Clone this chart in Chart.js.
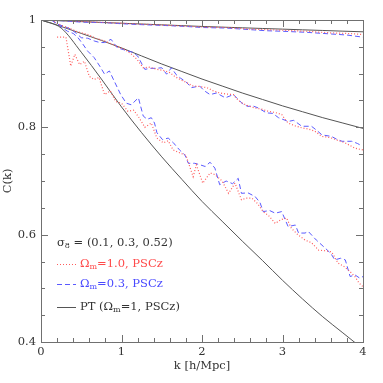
<!DOCTYPE html>
<html>
<head>
<meta charset="utf-8">
<script src="https://cdn.jsdelivr.net/npm/chart.js@4"></script>
<style>
  html, body { margin: 0; padding: 0; background: #fff; }
  #wrap { width: 383px; height: 383px; }
</style>
</head>
<body>
<div id="wrap"><canvas id="chart"></canvas></div>
<script>
// ticks of the axes
const kTicks = [0, 1, 2, 3, 4];
const cTicks = [0.4, 0.6, 0.8, 1];

// perturbation theory (solid), one curve per sigma8
const ptK = [0, 0.25, 0.5, 0.75, 1, 1.25, 1.5, 1.75, 2, 2.25, 2.5, 2.75, 3, 3.25, 3.5, 3.75, 4];
const ptS01 = [1, 0.9985, 0.997, 0.9955, 0.994, 0.9925, 0.991, 0.9895, 0.988, 0.9867, 0.9855, 0.9842, 0.983, 0.9817, 0.9805, 0.9792, 0.978];
const ptS03 = [1, 0.988, 0.975, 0.962, 0.948, 0.933, 0.918, 0.904, 0.89, 0.877, 0.864, 0.852, 0.84, 0.829, 0.818, 0.808, 0.798];
const ptS52 = [1, 0.985, 0.94, 0.89, 0.838, 0.79, 0.745, 0.703, 0.662, 0.625, 0.588, 0.552, 0.515, 0.48, 0.447, 0.417, 0.387];

// Omega_m = 1.0, PSCz (red dotted), [k, C]
const om10S01 = [[0.13,1],[0.4,0.998],[0.7,0.996],[1,0.994],[1.3,0.992],[1.6,0.99],[2,0.987],[2.3,0.986],[2.6,0.983],[3,0.981],[3.3,0.979],[3.6,0.976],[3.8,0.975],[4,0.973]];
const om10S03 = [[0.13,1],[0.25,0.99],[0.35,0.985],[0.45,0.978],[0.58,0.973],[0.68,0.966],[0.79,0.961],[0.88,0.955],[0.96,0.95],[1.04,0.945],[1.12,0.937],[1.19,0.927],[1.27,0.911],[1.35,0.912],[1.44,0.908],[1.52,0.906],[1.6,0.902],[1.66,0.895],[1.73,0.889],[1.8,0.884],[1.89,0.877],[1.97,0.876],[2.06,0.874],[2.14,0.868],[2.22,0.864],[2.3,0.862],[2.39,0.861],[2.44,0.852],[2.49,0.846],[2.57,0.84],[2.66,0.836],[2.74,0.834],[2.82,0.83],[2.9,0.828],[2.99,0.824],[3.03,0.815],[3.07,0.808],[3.15,0.803],[3.24,0.799],[3.32,0.797],[3.4,0.793],[3.49,0.783],[3.55,0.782],[3.61,0.78],[3.7,0.775],[3.78,0.771],[3.84,0.766],[3.9,0.761],[4,0.758]];
const om10S52 = [[0.2,0.968],[0.31,0.968],[0.37,0.914],[0.42,0.936],[0.48,0.917],[0.54,0.923],[0.6,0.895],[0.66,0.889],[0.72,0.893],[0.79,0.861],[0.86,0.868],[0.93,0.848],[1,0.845],[1.08,0.83],[1.15,0.832],[1.21,0.82],[1.29,0.8],[1.37,0.808],[1.44,0.78],[1.52,0.771],[1.58,0.775],[1.64,0.758],[1.73,0.752],[1.8,0.748],[1.89,0.708],[1.93,0.73],[2.01,0.696],[2.1,0.715],[2.16,0.712],[2.25,0.7],[2.33,0.677],[2.41,0.696],[2.49,0.665],[2.55,0.668],[2.62,0.668],[2.69,0.658],[2.76,0.643],[2.83,0.635],[2.91,0.621],[2.98,0.628],[3.05,0.631],[3.11,0.612],[3.19,0.6],[3.28,0.59],[3.36,0.585],[3.45,0.571],[3.53,0.57],[3.61,0.568],[3.69,0.547],[3.76,0.541],[3.82,0.534],[3.9,0.522],[3.95,0.51],[4,0.503]];

// Omega_m = 0.3, PSCz (blue dashed), [k, C]
const om03S01 = [[0.13,1],[0.5,0.996],[0.8,0.995],[1,0.993],[1.3,0.991],[1.5,0.99],[1.8,0.988],[2,0.986],[2.3,0.985],[2.5,0.983],[2.8,0.98],[3,0.979],[3.3,0.977],[3.6,0.974],[3.8,0.972],[4,0.968]];
const om03S03 = [[0.13,1],[0.21,0.992],[0.29,0.988],[0.37,0.983],[0.44,0.975],[0.5,0.967],[0.58,0.966],[0.66,0.961],[0.73,0.958],[0.79,0.958],[0.87,0.964],[0.95,0.948],[1.02,0.945],[1.08,0.942],[1.14,0.94],[1.2,0.933],[1.29,0.908],[1.36,0.91],[1.43,0.91],[1.5,0.911],[1.56,0.899],[1.62,0.911],[1.68,0.898],[1.73,0.892],[1.8,0.885],[1.87,0.874],[1.97,0.877],[2.03,0.868],[2.1,0.861],[2.18,0.864],[2.29,0.855],[2.39,0.861],[2.45,0.852],[2.51,0.843],[2.57,0.839],[2.63,0.84],[2.7,0.836],[2.8,0.827],[2.88,0.826],[2.95,0.818],[3.07,0.811],[3.14,0.813],[3.24,0.802],[3.36,0.802],[3.42,0.795],[3.49,0.786],[3.61,0.783],[3.67,0.778],[3.74,0.774],[3.86,0.774],[3.93,0.77],[3.99,0.765]];
const om03S52 = [[0.13,1],[0.21,0.992],[0.27,0.985],[0.33,0.979],[0.4,0.975],[0.46,0.967],[0.52,0.955],[0.58,0.942],[0.66,0.93],[0.73,0.914],[0.79,0.899],[0.85,0.905],[0.91,0.886],[0.99,0.861],[1.06,0.845],[1.12,0.842],[1.21,0.855],[1.27,0.821],[1.32,0.815],[1.37,0.818],[1.41,0.808],[1.44,0.79],[1.51,0.777],[1.58,0.78],[1.64,0.772],[1.72,0.758],[1.79,0.748],[1.83,0.733],[1.91,0.733],[1.98,0.73],[2.04,0.727],[2.1,0.735],[2.16,0.724],[2.22,0.693],[2.3,0.7],[2.38,0.695],[2.45,0.705],[2.49,0.677],[2.57,0.678],[2.66,0.671],[2.72,0.66],[2.76,0.643],[2.84,0.645],[2.91,0.64],[2.99,0.643],[3.07,0.615],[3.16,0.618],[3.2,0.603],[3.28,0.603],[3.32,0.606],[3.42,0.59],[3.53,0.575],[3.6,0.565],[3.65,0.553],[3.72,0.556],[3.78,0.553],[3.84,0.522],[3.9,0.525],[3.96,0.519],[4,0.522]];

const FONT = "'DejaVu Serif', serif";
const TEXT = '#333';
const FRAME = '#707070';
const RED = '#ff5c5c';
const BLUE = '#5a5aff';
const PT = '#555';

const toXY = arr => arr.map(p => ({ x: p[0], y: p[1] }));
const ptXY = vals => ptK.map((k, i) => ({ x: k, y: vals[i] }));

function redSet(arr) {
  return { data: toXY(arr), borderColor: RED, borderWidth: 1.2, borderDash: [1, 2], pointRadius: 0, tension: 0 };
}
function blueSet(arr) {
  return { data: toXY(arr), borderColor: BLUE, borderWidth: 1, borderDash: [5, 3], pointRadius: 0, tension: 0 };
}
function ptSet(vals) {
  return { data: ptXY(vals), borderColor: PT, borderWidth: 1, pointRadius: 0, cubicInterpolationMode: 'monotone' };
}

// frame, inward ticks on four sides, and the legend with subscripts
const framePlugin = {
  id: 'frame',
  afterDatasetsDraw(chart) {
    const { ctx, chartArea: a, scales: { x, y } } = chart;
    ctx.save();
    ctx.strokeStyle = FRAME;
    ctx.lineWidth = 1;
    ctx.setLineDash([]);
    ctx.strokeRect(a.left + 0.5, a.top + 0.5, a.right - a.left, a.bottom - a.top);
    ctx.beginPath();
    for (let i = 0; i <= 20; i++) {
      const v = i * 0.2;
      const len = (i % 5 === 0) ? 7 : 4;
      const px = Math.round(x.getPixelForValue(v)) + 0.5;
      ctx.moveTo(px, a.bottom); ctx.lineTo(px, a.bottom - len);
      ctx.moveTo(px, a.top); ctx.lineTo(px, a.top + len);
    }
    for (let i = 0; i <= 12; i++) {
      const v = 0.4 + i * 0.05;
      const len = (i % 4 === 0) ? 7 : 4;
      const py = Math.round(y.getPixelForValue(v)) + 0.5;
      ctx.moveTo(a.left, py); ctx.lineTo(a.left + len, py);
      ctx.moveTo(a.right, py); ctx.lineTo(a.right - len, py);
    }
    ctx.stroke();

    // legend
    const x0 = 57, xt = 80;
    ctx.textBaseline = 'middle';
    function rich(parts, px, py, color) {
      let cx = px;
      ctx.fillStyle = color;
      parts.forEach(p => {
        ctx.font = (p.sub ? '8px ' : '11.5px ') + FONT;
        ctx.fillText(p.t, cx, py + (p.sub ? 3 : 0));
        cx += ctx.measureText(p.t).width;
      });
    }
    rich([{ t: 'σ' }, { t: '8', sub: true }, { t: ' = (0.1, 0.3, 0.52)' }], x0, 243, TEXT);

    ctx.lineWidth = 1.2; ctx.strokeStyle = RED; ctx.setLineDash([1, 2]);
    ctx.beginPath(); ctx.moveTo(x0, 264.5); ctx.lineTo(x0 + 19, 264.5); ctx.stroke();
    rich([{ t: 'Ω' }, { t: 'm', sub: true }, { t: '=1.0, PSCz' }], xt, 264, '#ff4a4a');

    ctx.lineWidth = 1; ctx.strokeStyle = BLUE; ctx.setLineDash([5, 3]);
    ctx.beginPath(); ctx.moveTo(x0, 284.5); ctx.lineTo(x0 + 19, 284.5); ctx.stroke();
    rich([{ t: 'Ω' }, { t: 'm', sub: true }, { t: '=0.3, PSCz' }], xt, 284, '#4a4aff');

    ctx.strokeStyle = PT; ctx.setLineDash([]);
    ctx.beginPath(); ctx.moveTo(x0, 307.5); ctx.lineTo(x0 + 19, 307.5); ctx.stroke();
    rich([{ t: 'PT (Ω' }, { t: 'm', sub: true }, { t: '=1, PSCz)' }], xt, 307, TEXT);
    ctx.restore();
  }
};

new Chart(document.getElementById('chart'), {
  type: 'line',
  data: {
    datasets: [
      redSet(om10S01), redSet(om10S03), redSet(om10S52),
      blueSet(om03S01), blueSet(om03S03), blueSet(om03S52),
      ptSet(ptS01), ptSet(ptS03), ptSet(ptS52)
    ]
  },
  options: {
    responsive: true,
    maintainAspectRatio: false,
    animation: false,
    devicePixelRatio: 1,
    layout: { padding: { top: 20, right: 20, left: 0, bottom: 0 } },
    plugins: { legend: { display: false }, tooltip: { enabled: false } },
    scales: {
      x: {
        type: 'linear',
        min: 0, max: 4,
        grid: { display: false, drawTicks: false },
        border: { display: false },
        afterFit: s => { s.height = 41; },
        afterBuildTicks: s => { s.ticks = kTicks.map(v => ({ value: v })); },
        ticks: { color: TEXT, font: { family: FONT, size: 11.5 }, padding: 3, maxRotation: 0 },
        title: { display: true, text: 'k [h/Mpc]', color: TEXT, font: { family: FONT, size: 11.5 }, padding: { top: 0, bottom: 10 } }
      },
      y: {
        min: 0.4, max: 1,
        grid: { display: false, drawTicks: false },
        border: { display: false },
        afterFit: s => { s.width = 41; },
        afterBuildTicks: s => { s.ticks = cTicks.map(v => ({ value: v })); },
        ticks: { color: TEXT, font: { family: FONT, size: 11.5 }, padding: 5, callback: v => String(v) },
        title: { display: true, text: 'C(k)', color: TEXT, font: { family: FONT, size: 11.5 }, padding: { top: 1, bottom: 0 } }
      }
    }
  },
  plugins: [framePlugin]
});
</script>
</body>
</html>
